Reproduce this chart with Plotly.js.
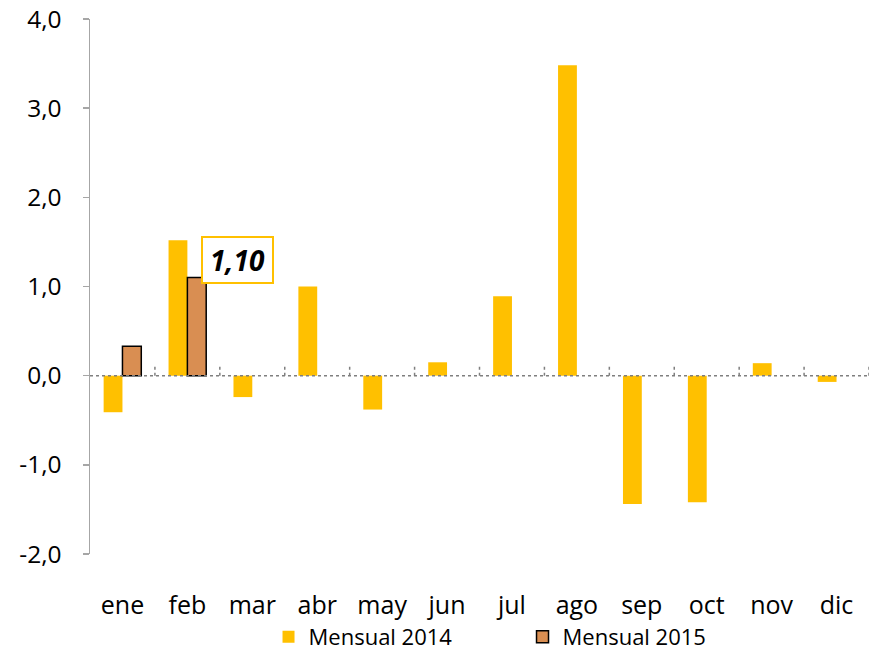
<!DOCTYPE html>
<html><head><meta charset="utf-8">
<script src="https://cdn.plot.ly/plotly-3.0.1.min.js"></script>
<style>body{margin:0;background:#fff}#c{width:869px;height:653px}</style>
</head><body><div id="c"></div>
<script>
const meses = ['ene','feb','mar','abr','may','jun','jul','ago','sep','oct','nov','dic'];
const mensual2014 = [-0.41, 1.52, -0.24, 1.00, -0.38, 0.15, 0.89, 3.48, -1.44, -1.42, 0.14, -0.07];
const mes2015 = ['ene','feb'];
const mensual2015 = [0.33, 1.10];
const yTicks = [-2, -1, 0, 1, 2, 3, 4];
const yTickText = yTicks.map(v => v.toFixed(1).replace('.', ','));

const font = '"Open Sans", sans-serif';
const traces = [
  {type:'bar', name:'Mensual 2014', x:meses, y:mensual2014,
   marker:{color:'#FFC000', line:{width:0}}},
  {type:'bar', name:'Mensual 2015', x:mes2015, y:mensual2015,
   marker:{color:'#D98E52', line:{color:'#000', width:1.5}}}
];
const shapes = [{type:'line', xref:'paper', yref:'y', x0:0, x1:1, y0:0, y1:0,
  line:{color:'#7F7F7F', width:1.5, dash:'dot'}, layer:'above'}];
for (let i = 0; i < meses.length; i++) {
  shapes.push({type:'line', xref:'x', yref:'y', x0:i+0.5, x1:i+0.5, y0:0, y1:0.11,
    line:{color:'#7F7F7F', width:1.5, dash:'dot'}});
}
const layout = {
  width:869, height:653, paper_bgcolor:'#fff', plot_bgcolor:'#fff',
  margin:{l:90, r:0, t:19, b:99},
  barmode:'group', bargap:0.42, bargroupgap:0,
  font:{family:font, color:'#000'},
  showlegend:true,
  legend:{orientation:'h', xref:'container', x:0.309, xanchor:'left', yref:'container', y:0.0245, yanchor:'middle',
    font:{size:22, family:font}, tracegroupgap:0, entrywidth:209, entrywidthmode:'pixels', bgcolor:'rgba(0,0,0,0)'},
  xaxis:{type:'category', categoryarray:meses, range:[-0.5, 11.5], showline:false,
    showgrid:false, zeroline:false, ticks:'', tickfont:{size:25, family:font},
    ticklabelstandoff:34},
  yaxis:{range:[-2, 4], tickvals:yTicks, ticktext:yTickText, showgrid:false, zeroline:false,
    showline:true, linecolor:'#A6A6A6', linewidth:1.5, ticks:'outside', ticklen:6,
    tickcolor:'#A6A6A6', tickwidth:1.5, tickfont:{size:24.5, family:font},
    ticklabelstandoff:16},
  shapes:shapes,
  annotations:[{x:'feb', y:mensual2015[1], xref:'x', yref:'y',
    text:'<b><i>' + mensual2015[1].toFixed(2).replace('.', ',') + '</i></b>',
    showarrow:false, xanchor:'left', yanchor:'bottom', xshift:14, yshift:-6,
    width:63, align:'center',
    font:{size:28, family:font, color:'#000'},
    bordercolor:'#FFC000', borderwidth:2, borderpad:3, bgcolor:'#fff'}]
};
Plotly.newPlot('c', traces, layout, {displayModeBar:false, staticPlot:true});
</script></body></html>
